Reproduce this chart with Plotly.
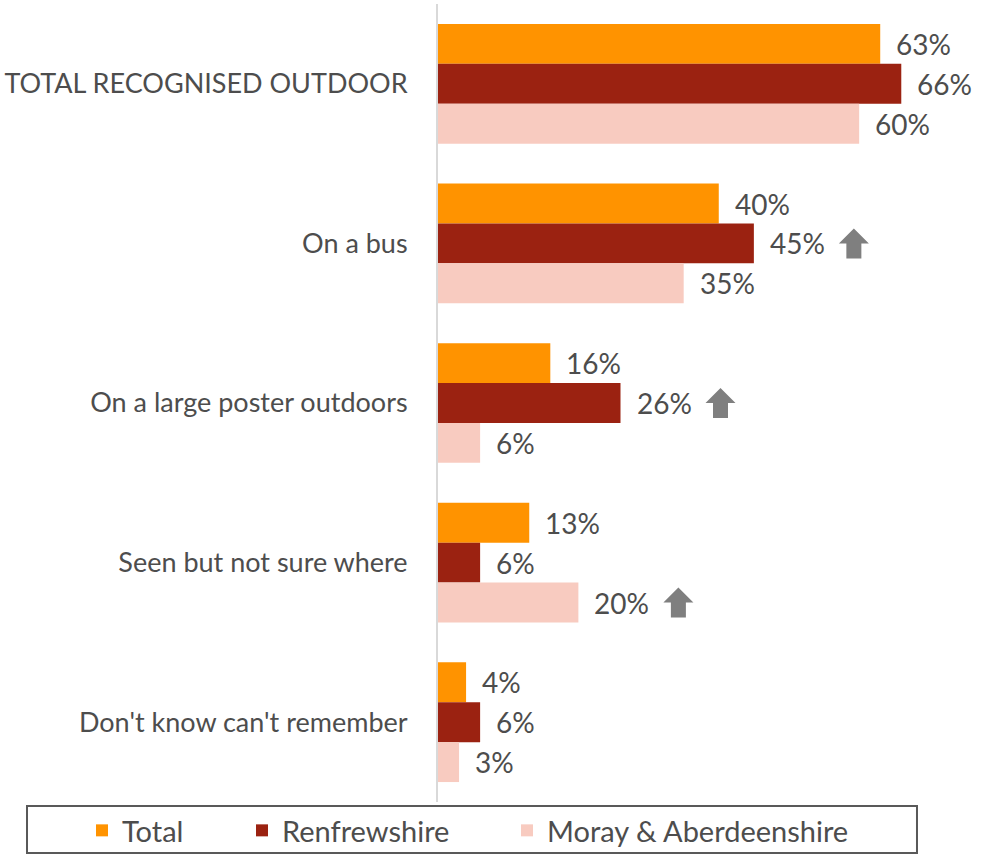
import plotly.graph_objects as go

# Survey: where the outdoor advertising was recognised (% of respondents)
categories = [
    "TOTAL RECOGNISED OUTDOOR",
    "On a bus",
    "On a large poster outdoors",
    "Seen but not sure where",
    "Don't know can't remember",
]
series_names = ["Total", "Renfrewshire", "Moray & Aberdeenshire"]
total = [63, 40, 16, 13, 4]
renfrewshire = [66, 45, 26, 6, 6]
moray_aberdeenshire = [60, 35, 6, 20, 3]
# significantly higher results, flagged with an up arrow: (category, series)
significant_up = [
    ("On a bus", "Renfrewshire"),
    ("On a large poster outdoors", "Renfrewshire"),
    ("Seen but not sure where", "Moray & Aberdeenshire"),
]

colors = ["#FF9300", "#9B2211", "#F8CBC0"]
text_color = "#4D4D4D"
font_family = "Lato"

values = [total, renfrewshire, moray_aberdeenshire]
legend_ids = ["legend", "legend2", "legend3"]

fig = go.Figure()
for name, vals, col, lg in zip(series_names, values, colors, legend_ids):
    fig.add_trace(go.Bar(
        y=categories, x=vals, name=name, orientation="h",
        marker=dict(color=col, line=dict(width=0)),
        legend=lg, hoverinfo="x+name",
    ))

# bar offset within a category group (bar width = 0.25 of a category band)
bar_w = 0.25
annotations = []
for s, vals in enumerate(values):
    for i, v in enumerate(vals):
        annotations.append(dict(
            x=v, y=i + (s - 1) * bar_w, xref="x", yref="y",
            text=f"{v}%", showarrow=False, xanchor="left", yanchor="middle",
            xshift=14, font=dict(family=font_family, size=28, color=text_color),
        ))

shapes = []
arrow_path = ("M 85,0 L 100,15 L 115,0 L 107.5,0 L 107.5,-15 "
              "L 92.5,-15 L 92.5,0 Z")
for cat, ser in significant_up:
    i = categories.index(cat)
    s = series_names.index(ser)
    shapes.append(dict(
        type="path", xref="x", yref="y",
        xsizemode="pixel", ysizemode="pixel",
        xanchor=values[s][i], yanchor=i + (s - 1) * bar_w,
        path=arrow_path, fillcolor="#7F7F7F", line=dict(width=0),
    ))

# legend frame
shapes.append(dict(
    type="rect", xref="paper", yref="paper",
    x0=-0.7555, x1=0.8805, y0=-0.005, y1=-0.064,
    line=dict(color="#595959", width=2), fillcolor="rgba(0,0,0,0)",
))

legend_style = dict(
    orientation="h", yanchor="middle", xanchor="left",
    font=dict(family=font_family, size=29, color=text_color),
    bgcolor="rgba(0,0,0,0)", borderwidth=0, itemclick=False,
)

fig.update_layout(
    width=982, height=856,
    margin=dict(l=438, r=0, t=4, b=52),
    paper_bgcolor="white", plot_bgcolor="white",
    barmode="group", bargap=0.25, bargroupgap=0,
    font=dict(family=font_family, size=27, color=text_color),
    xaxis=dict(range=[0, 77.5], visible=False, fixedrange=True),
    yaxis=dict(
        autorange="reversed", showgrid=False, zeroline=False,
        showline=True, linecolor="#D9D9D9", linewidth=2,
        ticks="", ticklabelstandoff=23,
        tickfont=dict(family=font_family, size=27, color=text_color),
    ),
    legend=dict(x=-0.6544, y=-0.036, **legend_style),
    legend2=dict(x=-0.3603, y=-0.036, **legend_style),
    legend3=dict(x=0.1268, y=-0.036, **legend_style),
    annotations=annotations,
    shapes=shapes,
    showlegend=True,
)

fig.write_html("out.html")
